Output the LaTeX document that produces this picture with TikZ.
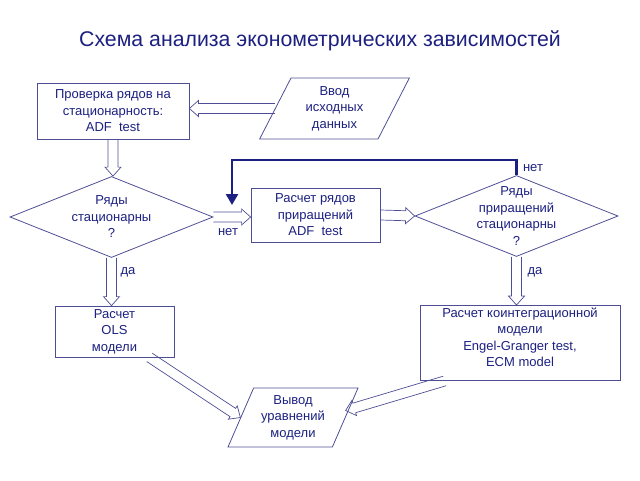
\documentclass[tikz,border=0pt]{standalone}
\usepackage{fontspec}
\setmainfont{Liberation Sans}
\usetikzlibrary{shapes.geometric,arrows.meta,calc}
\definecolor{navy}{RGB}{28,32,128}
\definecolor{frame}{RGB}{78,78,150}

\tikzset{
  txt/.style={text=navy, font=\fontsize{13}{16.5}\selectfont, align=center},
  blk/.style={txt, draw=frame, line width=0.8pt, rectangle, inner sep=2pt},
  decide/.style={txt, draw=frame, line width=0.8pt, diamond, aspect=2.5, inner sep=-15pt, minimum width=203pt, minimum height=81pt},
  io/.style={txt, draw=frame, line width=0.8pt, trapezium, trapezium left angle=65, trapezium right angle=115, trapezium stretches=true, inner sep=0pt},
  hollow/.style={draw=frame, line width=0.7pt, line join=miter, to path={
    let \p1=(\tikztostart), \p2=(\tikztotarget),
        \n1={atan2(\y2-\y1,\x2-\x1)}, \n2={veclen(\x2-\x1,\y2-\y1)} in
    {[shift={(\p1)}, rotate=\n1] (0pt,-5pt) -- ({\n2-9pt},-5pt) -- ({\n2-9pt},-8pt) -- ({\n2*1pt},0pt)
      -- ({\n2-9pt},8pt) -- ({\n2-9pt},5pt) -- (0pt,5pt)}
  }},
}

\begin{document}
\begin{tikzpicture}[x=1pt, y=-1pt]
\useasboundingbox (0,0) rectangle (640,480);
\node [text=navy, font=\fontsize{21.3}{24}\selectfont] (title) at (320,41) {Схема анализа эконометрических зависимостей};

\node [blk, minimum width=152pt, minimum height=56pt] (check) at (113,111) {Проверка рядов на\\стационарность:\\ADF\ \ test};
\node [io, minimum width=151pt, minimum height=61pt] (input) at (334.5,108.5) {Ввод\\исходных\\данных};
\node [decide] (stat) at (111.5,217) {Ряды\\стационарны\\?};
\node [blk, minimum width=129pt, minimum height=54pt] (diff) at (315.5,215) {Расчет рядов\\приращений\\ADF\ \ test};
\node [decide] (dstat) at (516.5,216) {Ряды\\приращений\\стационарны\\?};
\node [blk, minimum width=119pt, minimum height=51pt] (ols) at (114.5,331.5) {Расчет\\OLS\\модели};
\node [blk, minimum width=200pt, minimum height=74pt, text depth=12pt] (coint) at (520,343) {Расчет коинтеграционной\\модели\\Engel-Granger test,\\ECM model};
\node [io, minimum width=130pt, minimum height=59pt] (output) at (293,417.5) {Вывод\\уравнений\\модели};

% hollow arrows
\draw [hollow] (input.west) to (check.east |- input.west);
\draw [hollow] (check.south) to (check.south |- stat.north);
\draw [hollow] (stat.east) to (diff.west |- stat.east);
\draw [hollow] (diff.east) to (dstat.west);
\draw [hollow] (stat.south) to (stat.south |- ols.north);
\draw [hollow] (dstat.south) to (dstat.south |- coint.north);
\draw [hollow] ([xshift=35pt] ols.south) to (output.west);
\draw [hollow] ([xshift=25pt] coint.south west) to ([yshift=7pt] output.east);

% feedback
\coordinate (back) at (232,205);
\draw [navy, line width=2.5pt, -{Triangle[length=11pt,width=12pt]}] (dstat.north) |- (232,160) -- (back);

\node [txt] (no1) at (228,232) {нет};
\node [txt] (no2) at (533,168) {нет};
\node [txt] (yes1) at (128,272) {да};
\node [txt] (yes2) at (535,272) {да};
\end{tikzpicture}
\end{document}
